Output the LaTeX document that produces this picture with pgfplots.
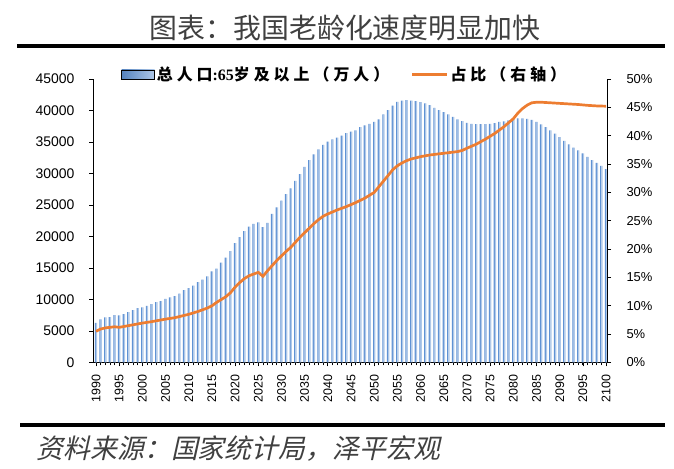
\documentclass[border=0pt]{standalone}
\usepackage{fontspec}
\setmainfont{Liberation Sans}
\newfontfamily\cjk{Noto Sans CJK SC}
\newfontfamily\cjklg{Noto Sans CJK SC}[LetterSpace=25]
\newfontfamily\cjkit{Noto Sans CJK SC}[FakeSlant=0.22]
\newfontfamily\lsr{Liberation Serif}
\usepackage{pgfplots}
\pgfplotsset{compat=1.18}
\definecolor{bardark}{HTML}{5F92D4}
\definecolor{barlight}{HTML}{AFC8E8}
\definecolor{lineor}{HTML}{ED7D31}
\pgfplotstableread{
year pop
1990 6300
1991 6840
1992 7160
1993 7210
1994 7530
1995 7470
1996 7680
1997 8000
1998 8320
1999 8630
2000 8740
2001 9000
2002 9260
2003 9580
2004 9740
2005 10100
2006 10320
2007 10530
2008 10950
2009 11470
2010 11790
2011 12210
2012 12740
2013 13160
2014 13680
2015 14470
2016 14890
2017 15840
2018 16630
2019 17680
2020 18950
2021 19890
2022 20840
2023 21580
2024 22000
2025 22260
2026 21470
2027 22160
2028 23580
2029 24630
2030 25680
2031 26740
2032 27630
2033 28840
2034 29890
2035 31050
2036 32110
2037 33050
2038 33840
2039 34530
2040 35050
2041 35420
2042 35680
2043 36000
2044 36420
2045 36630
2046 36840
2047 37370
2048 37630
2049 37890
2050 38210
2051 38580
2052 39370
2053 40050
2054 40790
2055 41370
2056 41580
2057 41630
2058 41580
2059 41470
2060 41320
2061 41110
2062 40840
2063 40420
2064 40050
2065 39740
2066 39370
2067 39000
2068 38580
2069 38320
2070 38050
2071 37890
2072 37840
2073 37840
2074 37840
2075 37890
2076 38000
2077 38210
2078 38260
2079 38420
2080 38630
2081 38740
2082 38740
2083 38680
2084 38530
2085 38210
2086 37790
2087 37370
2088 36840
2089 36320
2090 35790
2091 35160
2092 34630
2093 34110
2094 33680
2095 33210
2096 32630
2097 32110
2098 31680
2099 31210
2100 30680
}\poptable
\pgfplotstableread{
year share
1990 5.5
1991 5.9
1992 6.1
1993 6.2
1994 6.3
1995 6.2
1996 6.35
1997 6.5
1998 6.65
1999 6.8
2000 6.95
2002 7.2
2004 7.5
2005 7.65
2007 7.9
2009 8.3
2010 8.5
2012 9.0
2014 9.6
2015 10.0
2016 10.6
2017 11.1
2018 11.6
2019 12.3
2020 13.3
2021 14.1
2022 14.8
2023 15.3
2024 15.6
2025 15.9
2026 15.2
2027 16.2
2028 17.1
2029 18.0
2030 18.8
2031 19.6
2032 20.3
2033 21.2
2034 22.1
2035 22.9
2036 23.7
2037 24.5
2038 25.2
2039 25.8
2040 26.2
2042 26.9
2044 27.5
2046 28.2
2048 29.0
2050 30.0
2051 31.0
2052 32.0
2053 33.0
2054 34.0
2055 34.7
2056 35.2
2057 35.6
2058 35.9
2060 36.3
2062 36.6
2064 36.8
2066 37.0
2068 37.2
2069 37.4
2070 37.8
2072 38.5
2074 39.4
2076 40.4
2078 41.6
2080 43.0
2081 44.0
2082 44.8
2083 45.4
2084 45.8
2085 45.9
2086 45.9
2088 45.8
2090 45.7
2092 45.6
2094 45.5
2096 45.35
2098 45.25
2100 45.2
}\sharetable
\begin{document}
\begin{tikzpicture}[x=1bp,y=1bp]
\path[use as bounding box] (0,0) rectangle (674,469);
\node[font=\cjk\fontsize{28}{28}\selectfont, text=black!75] at (345,441) {图表：我国老龄化速度明显加快};
\draw[line width=4bp] (17,423.3) -- (665,423.3);
\draw[line width=4bp] (20,43.5) -- (665,43.5);
\node[anchor=west, font=\cjkit\fontsize{27}{27}\selectfont, text=black!75] at (33,20) {资料来源：国家统计局，泽平宏观};
\begin{axis}[
  at={(93bp,106.5bp)}, anchor=south west, scale only axis,
  width=514bp, height=283.5bp,
  xmin=1989.35, xmax=2100.2, ymin=0, ymax=45000,
  axis y line*=left, axis x line*=bottom,
  axis line style={line width=0.9bp},
  xtick={1990,1995,...,2100}, minor xtick={1990,...,2100},
  ytick={0,5000,...,45000}, scaled y ticks=false,
  tick align=outside, major tick length=4bp, minor tick length=3bp,
  tick style={black, line width=0.8bp},
  /pgf/number format/assume math mode=true,
  /pgf/number format/1000 sep={},
  xticklabel style={rotate=90, anchor=east, xshift=-5bp, font=\fontsize{12.5}{12.5}\selectfont},
  yticklabel style={xshift=-11bp, font=\fontsize{14}{14}\selectfont},
  clip=false,
]
\addplot[ybar, bar width=1.25bp, bar shift=-0.6bp, fill=bardark, draw=none] table[x=year,y=pop] {\poptable};
\addplot[ybar, bar width=1.25bp, bar shift=0.6bp, fill=barlight, draw=none] table[x=year,y=pop] {\poptable};
\end{axis}
\begin{axis}[
  at={(93bp,106.5bp)}, anchor=south west, scale only axis,
  width=514bp, height=283.5bp,
  xmin=1989.35, xmax=2100.2, ymin=0, ymax=50,
  axis y line*=right, axis x line=none,
  axis line style={line width=0.9bp},
  ytick={0,5,...,50},
  yticklabel={\pgfmathprintnumber{\tick}\%},
  tick align=outside, major tick length=4bp,
  tick style={black, line width=0.8bp},
  /pgf/number format/assume math mode=true,
  yticklabel style={xshift=12bp, font=\fontsize{13}{13}\selectfont},
  legend style={at={(0.4796,1.016)}, anchor=center, draw=none, fill=none,
    legend columns=2, font=\cjklg\bfseries\fontsize{16}{16}\selectfont,
    nodes={inner sep=2bp},
    /tikz/every even column/.append style={column sep=22bp},
    inner sep=0pt},
  legend cell align=left,
]
\addlegendimage{legend image code/.code={\fill[left color=bardark!90!black, right color=barlight] (0bp,-4.5bp) rectangle (33bp,4.5bp);}}
\addlegendentry{\makebox[230bp][l]{总人口{\lsr\bfseries :65}岁及以上（万人）}}
\addplot[lineor, line width=2.7bp, legend image code/.code={\draw[lineor, line width=2.7bp] (0bp,0bp) -- (35bp,0bp);}] table[x=year,y=share] {\sharetable};
\addlegendentry{\makebox[105bp][l]{占比（右轴）}}
\end{axis}
\end{tikzpicture}
\end{document}
